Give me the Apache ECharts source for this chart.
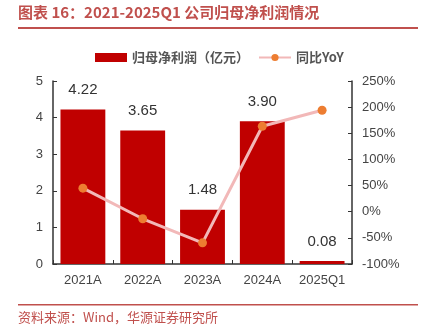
<!DOCTYPE html>
<html>
<head>
<meta charset="utf-8">
<script src="https://cdn.jsdelivr.net/npm/echarts@6/dist/echarts.min.js"></script>
<style>
  html, body { margin: 0; padding: 0; background: #fff; }
  #chart { width: 424px; height: 329px; }
</style>
</head>
<body>
<div id="chart"></div>
<script>
// 2021-2025Q1 net profit attributable to parent, with YoY growth
const categories = ['2021A', '2022A', '2023A', '2024A', '2025Q1'];
const netProfit = [4.22, 3.65, 1.48, 3.90, 0.08];
const yoyGrowth = [45, -13.5, -59.5, 163.5, 194];
const leftTicks = [0, 1, 2, 3, 4, 5];
const rightTicks = [-100, -50, 0, 50, 100, 150, 200, 250];

const chart = echarts.init(document.getElementById('chart'));
const FONT = '"Liberation Sans", Arial, "Noto Sans CJK SC", sans-serif';
const CJK = '"Noto Sans CJK SC", sans-serif';
const RED = '#c00000';
const HEAD_RED = '#c0504d';

chart.setOption({
  animation: false,
  textStyle: { fontFamily: FONT },
  graphic: [
    { type: 'text', left: 18, top: 5,
      style: { text: '图表 16：2021-2025Q1 公司归母净利润情况', fill: HEAD_RED,
               font: 'bold 15px ' + CJK } },
    { type: 'rect', shape: { x: 18, y: 27, width: 400, height: 2 }, style: { fill: HEAD_RED } },
    { type: 'rect', shape: { x: 18, y: 304, width: 400, height: 1.5 }, style: { fill: HEAD_RED } },
    { type: 'text', left: 18, top: 311,
      style: { text: '资料来源：Wind，华源证券研究所', fill: HEAD_RED,
               font: '13px ' + CJK } }
  ],
  legend: {
    top: 46,
    left: 90,
    itemGap: 9,
    itemWidth: 32,
    itemHeight: 9,
    textStyle: { fontFamily: CJK, fontSize: 13, color: '#555', fontWeight: 'bold' },
    data: [
      { name: '归母净利润（亿元）', icon: 'rect' },
      { name: '同比YoY' }
    ]
  },
  grid: { left: 53, right: 72, top: 81, bottom: 65 },
  xAxis: {
    type: 'category',
    data: categories,
    axisLine: { lineStyle: { color: '#333', width: 1.5 } },
    axisTick: { show: true, inside: true, length: 4, alignWithLabel: false, lineStyle: { color: '#333' } },
    axisLabel: { color: '#444', fontSize: 13, margin: 10, interval: 0, fontFamily: FONT }
  },
  yAxis: [
    {
      type: 'value', min: 0, max: 5, interval: 1,
      axisLine: { show: true, lineStyle: { color: '#333', width: 1.5 } },
      axisTick: { show: true, inside: true, length: 4, lineStyle: { color: '#333' } },
      splitLine: { show: false },
      axisLabel: { color: '#444', fontSize: 13, margin: 10,
                   formatter: v => leftTicks.includes(v) ? String(v) : '' }
    },
    {
      type: 'value', min: -100, max: 250, interval: 50,
      axisLine: { show: true, lineStyle: { color: '#333', width: 1.5 } },
      axisTick: { show: true, inside: true, length: 4, lineStyle: { color: '#333' } },
      splitLine: { show: false },
      axisLabel: { color: '#444', fontSize: 13, margin: 10,
                   formatter: v => rightTicks.includes(v) ? v + '%' : '' }
    }
  ],
  series: [
    {
      name: '归母净利润（亿元）',
      type: 'bar',
      data: netProfit,
      barWidth: '75%',
      itemStyle: { color: RED },
      label: {
        show: true, position: 'top', distance: 12,
        color: '#333', fontSize: 15, fontFamily: FONT,
        formatter: p => p.value.toFixed(2)
      }
    },
    {
      name: '同比YoY',
      type: 'line',
      yAxisIndex: 1,
      data: yoyGrowth,
      symbol: 'circle',
      symbolSize: 9,
      lineStyle: { color: '#f2b8b8', width: 3 },
      itemStyle: { color: '#ed7d31' },
      z: 5
    }
  ]
});
</script>
</body>
</html>
